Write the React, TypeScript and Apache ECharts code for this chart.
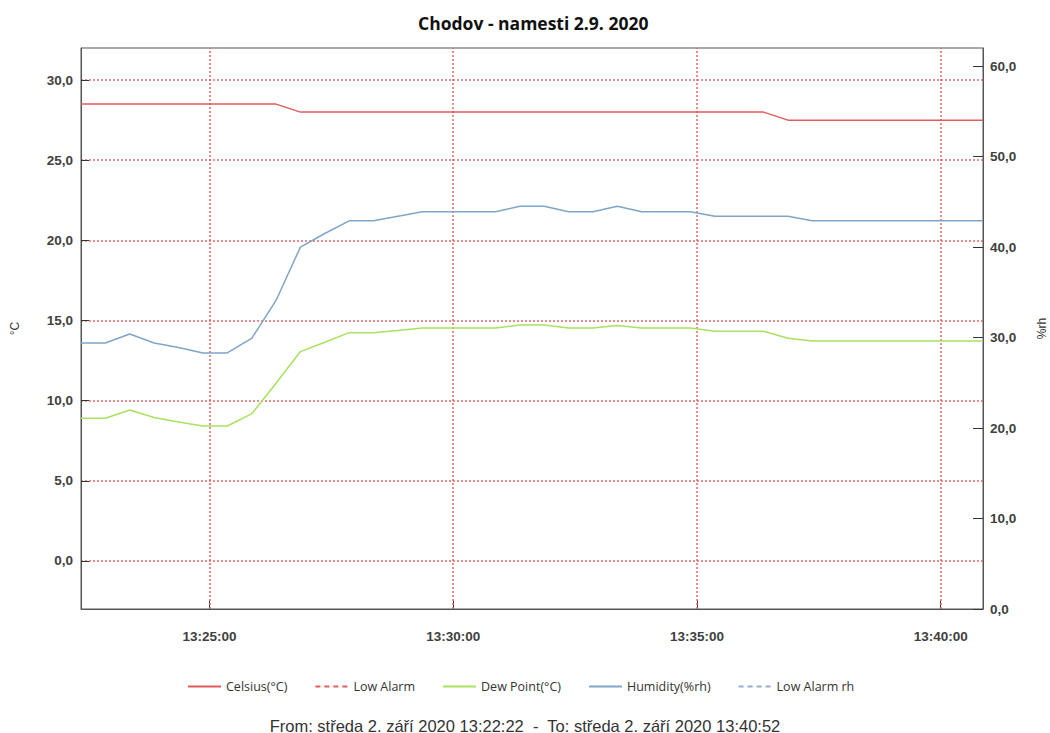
import React, { useEffect, useRef } from "react";
import * as echarts from "echarts";

const times: string[] = [
  "13:22:22", "13:22:52", "13:23:22", "13:23:52", "13:24:22", "13:24:52", "13:25:22", "13:25:52",
  "13:26:22", "13:26:52", "13:27:22", "13:27:52", "13:28:22", "13:28:52", "13:29:22", "13:29:52",
  "13:30:22", "13:30:52", "13:31:22", "13:31:52", "13:32:22", "13:32:52", "13:33:22", "13:33:52",
  "13:34:22", "13:34:52", "13:35:22", "13:35:52", "13:36:22", "13:36:52", "13:37:22", "13:37:52",
  "13:38:22", "13:38:52", "13:39:22", "13:39:52", "13:40:22", "13:40:52",
];

const celsius: number[] = [
  28.5, 28.5, 28.5, 28.5, 28.5, 28.5, 28.5, 28.5, 28.5, 28.0, 28.0, 28.0, 28.0, 28.0, 28.0, 28.0,
  28.0, 28.0, 28.0, 28.0, 28.0, 28.0, 28.0, 28.0, 28.0, 28.0, 28.0, 28.0, 28.0, 27.5, 27.5, 27.5,
  27.5, 27.5, 27.5, 27.5, 27.5, 27.5,
];

const dewPoint: number[] = [
  8.9, 8.9, 9.42, 8.95, 8.67, 8.42, 8.42, 9.17, 11.08, 13.06, 13.64, 14.24, 14.24, 14.37, 14.53, 14.53,
  14.53, 14.53, 14.72, 14.72, 14.53, 14.53, 14.68, 14.53, 14.53, 14.53, 14.33, 14.33, 14.33, 13.89, 13.72, 13.72,
  13.72, 13.72, 13.72, 13.72, 13.72, 13.72,
];

const humidity: number[] = [
  29.4, 29.4, 30.4, 29.4, 28.9, 28.3, 28.3, 29.9, 34.1, 40.0, 41.5, 42.9, 42.9, 43.4, 43.9, 43.9,
  43.9, 43.9, 44.5, 44.5, 43.9, 43.9, 44.5, 43.9, 43.9, 43.9, 43.4, 43.4, 43.4, 43.4, 42.9, 42.9,
  42.9, 42.9, 42.9, 42.9, 42.9, 42.9,
];

const lowAlarm: number[] = [];
const lowAlarmRh: number[] = [];

const xTickTimes: string[] = ["13:25:00", "13:30:00", "13:35:00", "13:40:00"];

const seriesNames = ["Celsius(°C)", "Low Alarm", "Dew Point(°C)", "Humidity(%rh)", "Low Alarm rh"];
const titleText = "Chodov - namesti 2.9. 2020";
const footerText = "From: středa 2. září 2020 13:22:22  -  To: středa 2. září 2020 13:40:52";
const xStart = "13:22:22";
const xEnd = "13:40:52";

// seconds since midnight
function toSec(t: string): number {
  const [h, m, s] = t.split(":").map(Number);
  return h * 3600 + m * 60 + s;
}

function pairs(vals: number[]): [number, number][] {
  return vals.map((v, i) => [toSec(times[i]), v]);
}

const fmt = (v: number) => v.toFixed(1).replace(".", ",");
const pad = (n: number) => String(n).padStart(2, "0");
const fmtTime = (v: number) => {
  const s = Math.round(v);
  return `${pad(Math.floor(s / 3600))}:${pad(Math.floor((s % 3600) / 60))}:${pad(s % 60)}`;
};

export default function App() {
  const ref = useRef<HTMLDivElement>(null);
  useEffect(() => {
    const chart = echarts.init(ref.current!, null, { renderer: "svg" });
    const labelFont = { fontFamily: "Liberation Sans, Arial", fontSize: 13.5, fontWeight: "bold" as const, color: "#404040" };
    const tickVals = xTickTimes.map(toSec);
    const gridLine = { color: "#dd6a6a", type: [2, 2] as number[], width: 1.5 };
    chart.setOption({
      animation: false,
      backgroundColor: "#fff",
      title: [
        {
          text: titleText,
          left: 413,
          top: 9,
          textStyle: { fontFamily: "Open Sans", fontWeight: "bold", fontSize: 17.5, color: "#111" },
        },
        {
          text: footerText,
          left: "center",
          top: 712,
          textStyle: { fontFamily: "Liberation Sans, Arial", fontWeight: "normal", fontSize: 16.5, color: "#333" },
        },
      ],
      legend: {
        data: seriesNames,
        top: 675,
        left: 182,
        itemWidth: 33,
        itemHeight: 10,
        itemGap: 27,
        itemStyle: { opacity: 0 },
        textStyle: { fontFamily: "Open Sans", fontSize: 12.5, color: "#333" },
      },
      grid: {
        left: 81,
        right: 67,
        top: 48,
        bottom: 124,
        show: true,
        borderColor: "#555",
        borderWidth: 1,
        containLabel: false,
        outerBoundsMode: "none",
      },
      xAxis: {
        type: "value",
        min: toSec(xStart),
        max: toSec(xEnd),
        axisLine: { show: true, onZero: false, lineStyle: { color: "#555", width: 1 } },
        axisTick: { show: true, inside: true, length: 8, lineStyle: { color: "#333" }, customValues: tickVals },
        minorTick: { show: false },
        axisLabel: {
          ...labelFont,
          margin: 20,
          customValues: tickVals,
          formatter: (v: number) => fmtTime(v),
        },
        splitLine: { show: false },
      },
      yAxis: [
        {
          type: "value",
          name: "°C",
          nameLocation: "middle",
          nameRotate: 90,
          nameGap: 60,
          nameTextStyle: { fontFamily: "Liberation Sans, Arial", fontSize: 12, color: "#333" },
          min: -3,
          max: 32,
          splitNumber: 7,
          axisLine: { show: true, onZero: false, lineStyle: { color: "#555", width: 1 } },
          axisTick: { show: true, inside: true, length: 8, lineStyle: { color: "#333" } },
          axisLabel: {
            ...labelFont,
            margin: 8,
            showMinLabel: false,
            showMaxLabel: false,
            formatter: (v: number) => fmt(v),
          },
          splitLine: { show: true, showMinLine: false, showMaxLine: false, lineStyle: gridLine },
        },
        {
          type: "value",
          name: "%rh",
          nameLocation: "middle",
          nameRotate: 90,
          nameGap: 53,
          nameTextStyle: { fontFamily: "Liberation Sans, Arial", fontSize: 12, color: "#333" },
          min: 0,
          max: 62,
          interval: 10,
          position: "right",
          axisLine: { show: true, onZero: false, lineStyle: { color: "#555", width: 1 } },
          axisTick: { show: true, inside: true, length: 10, lineStyle: { color: "#333" } },
          axisLabel: {
            ...labelFont,
            margin: 7,
            showMaxLabel: false,
            formatter: (v: number) => fmt(v),
          },
          splitLine: { show: false },
        },
      ],
      series: [
        {
          name: seriesNames[0],
          type: "line",
          yAxisIndex: 0,
          symbol: "none",
          data: pairs(celsius),
          color: "#e25c5c",
          lineStyle: { width: 1.5, color: "#e25c5c" },
          z: 3,
          markLine: {
            silent: true,
            symbol: ["none", "none"],
            label: { show: false },
            lineStyle: gridLine,
            data: tickVals.map((v) => ({ xAxis: v })),
            z: 1,
          },
        },
        {
          name: seriesNames[1],
          type: "line",
          yAxisIndex: 0,
          symbol: "none",
          data: lowAlarm,
          color: "#e25c5c",
          lineStyle: { width: 1.5, type: [5, 4], color: "#e25c5c" },
        },
        {
          name: seriesNames[2],
          type: "line",
          yAxisIndex: 0,
          symbol: "none",
          data: pairs(dewPoint),
          color: "#a8e25e",
          lineStyle: { width: 1.5, color: "#a8e25e" },
          z: 3,
        },
        {
          name: seriesNames[3],
          type: "line",
          yAxisIndex: 1,
          symbol: "none",
          data: pairs(humidity),
          color: "#7fa5c8",
          lineStyle: { width: 1.5, color: "#7fa5c8" },
          z: 3,
        },
        {
          name: seriesNames[4],
          type: "line",
          yAxisIndex: 1,
          symbol: "none",
          data: lowAlarmRh,
          color: "#8fb0cf",
          lineStyle: { width: 1.5, type: [5, 4], color: "#8fb0cf" },
        },
      ],
    });
    return () => chart.dispose();
  }, []);
  return (
    <div
      ref={ref}
      style={{ position: "fixed", left: 0, top: 0, width: 1050, height: 733, background: "#fff" }}
    />
  );
}
